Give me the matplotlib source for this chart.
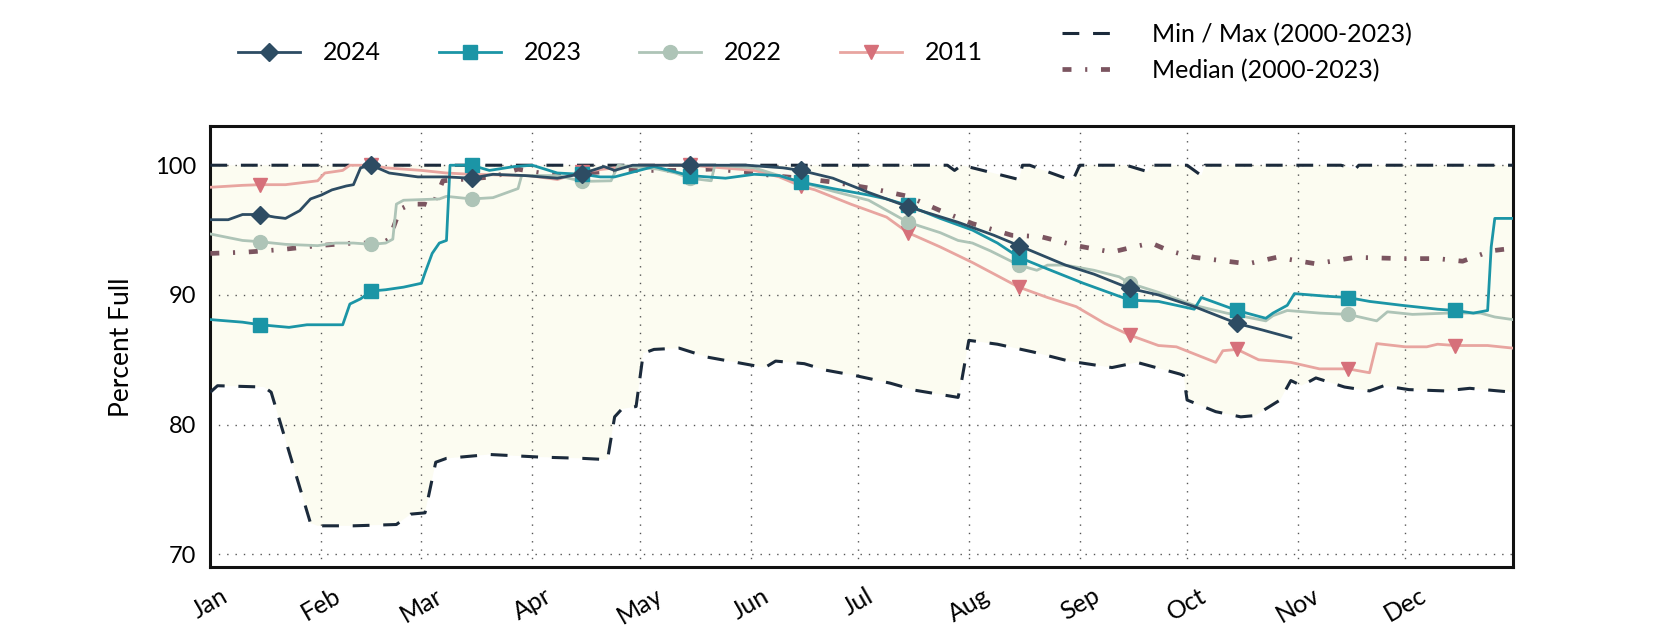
import numpy as np
import matplotlib
matplotlib.use("Agg")
import matplotlib.pyplot as plt
from matplotlib.lines import Line2D

plt.rcParams['font.family'] = ['Lato', 'DejaVu Sans']

# day of year (0 = Jan 1) for month starts and mid-month markers
month_days = [0, 31, 59, 90, 120, 151, 181, 212, 243, 273, 304, 334]
month_labels = ['Jan', 'Feb', 'Mar', 'Apr', 'May', 'Jun',
                'Jul', 'Aug', 'Sep', 'Oct', 'Nov', 'Dec']
mark_days = [14, 45, 73, 104, 134, 165, 195, 226, 257, 287, 318, 348]

days_2024 = [0, 5, 9, 14, 18, 21, 25, 28, 31, 34, 38, 40, 42, 45, 50, 58, 66, 73,
             79, 88, 97, 104, 110, 113, 118, 134, 150, 160, 165, 174, 184, 195,
             209, 219, 226, 239, 247, 257, 265, 275, 287, 294, 302]
pct_2024 = [95.8, 95.8, 96.2, 96.2, 96.0, 95.9, 96.5, 97.4, 97.7, 98.1, 98.4, 98.5,
            99.8, 100.0, 99.4, 99.1, 99.1, 99.0, 99.3, 99.2, 99.0, 99.35, 99.9, 99.6,
            100.0, 100.0, 100.0, 99.8, 99.6, 99.0, 97.9, 96.8, 95.6, 94.6, 93.8,
            92.3, 91.6, 90.5, 90.0, 89.1, 87.8, 87.3, 86.7]

days_2023 = [0, 9, 14, 22, 27, 37, 39, 42, 45, 49, 54, 59, 60, 62, 64, 66, 67, 73,
             78, 85, 90, 97, 104, 109, 113, 124, 134, 144, 152, 159, 165, 174, 184,
             189, 195, 204, 213, 220, 226, 234, 244, 257, 265, 275, 277, 285, 287,
             295, 297, 301, 303, 312, 318, 324, 333, 343, 348, 353, 357, 358, 359, 364]
pct_2023 = [88.1, 87.9, 87.7, 87.5, 87.7, 87.7, 89.3, 89.7, 90.3, 90.4, 90.6, 90.9,
            91.7, 93.2, 94.0, 94.2, 100.0, 100.0, 99.6, 99.9, 100.0, 99.4, 99.3, 99.1,
            99.1, 99.9, 99.2, 99.0, 99.3, 99.2, 98.7, 98.2, 97.7, 97.4, 96.9, 95.9,
            95.0, 94.0, 92.9, 92.0, 90.9, 89.6, 89.5, 88.9, 89.8, 89.0, 88.8, 88.2,
            88.6, 89.2, 90.1, 89.9, 89.8, 89.5, 89.2, 88.9, 88.8, 88.6, 88.8, 93.7,
            95.9, 95.9]

days_2022 = [0, 9, 14, 21, 30, 35, 40, 45, 49, 51, 52, 54, 64, 66, 73, 79, 86, 87,
             97, 104, 112, 114, 125, 130, 134, 140, 141, 152, 159, 165, 174, 184, 195,
             204, 209, 213, 218, 226, 231, 234, 239, 247, 254, 257, 265, 275, 284, 295,
             297, 301, 310, 318, 326, 329, 336, 346, 355, 359, 364]
pct_2022 = [94.7, 94.2, 94.1, 93.9, 93.8, 94.0, 94.0, 93.9, 94.0, 94.3, 97.0, 97.3,
            97.4, 97.6, 97.4, 97.5, 98.2, 99.2, 99.2, 98.75, 98.8, 100.0, 99.7, 99.4,
            99.0, 98.8, 100.0, 99.8, 99.2, 98.7, 98.0, 97.3, 95.6, 94.8, 94.2, 94.0,
            93.4, 92.3, 91.9, 92.3, 92.3, 91.9, 91.4, 90.9, 90.2, 89.2, 88.6, 88.0,
            88.4, 88.8, 88.6, 88.5, 88.0, 88.7, 88.5, 88.6, 88.6, 88.3, 88.1]

days_2011 = [0, 9, 14, 21, 30, 32, 37, 39, 45, 49, 59, 66, 73, 89, 97, 104, 110, 120,
             134, 152, 159, 165, 169, 179, 189, 195, 204, 213, 226, 234, 242, 250, 257,
             265, 270, 281, 283, 287, 293, 302, 310, 318, 324, 326, 334, 340, 343, 348,
             357, 364]
pct_2011 = [98.3, 98.45, 98.5, 98.5, 98.8, 99.4, 99.6, 100.0, 100.0, 99.8, 99.6, 99.4,
            99.3, 99.2, 98.9, 99.5, 99.7, 100.0, 100.0, 99.6, 99.1, 98.4, 98.1, 97.0,
            96.0, 94.8, 93.7, 92.5, 90.6, 89.8, 89.1, 87.8, 86.9, 86.1, 86.0, 84.8,
            85.7, 85.8, 85.0, 84.8, 84.3, 84.3, 84.0, 86.25, 86.0, 86.0, 86.2, 86.1,
            86.1, 85.9]

days_median = [0, 10, 20, 30, 40, 48, 50, 53, 56, 60, 62, 65, 70, 79, 86, 90, 97, 105,
               115, 130, 140, 150, 157, 165, 174, 185, 195, 204, 213, 224, 232, 242,
               252, 258, 263, 268, 275, 290, 298, 309, 320, 333, 343, 350, 358, 364]
pct_median = [93.2, 93.3, 93.5, 93.8, 94.0, 94.0, 94.3, 96.6, 97.0, 97.0, 96.8, 98.8,
              98.9, 99.1, 99.7, 99.5, 99.2, 99.4, 99.6, 99.6, 99.7, 99.5, 99.2, 99.0,
              98.7, 98.2, 97.6, 96.5, 95.5, 94.6, 94.5, 93.8, 93.3, 93.7, 94.0, 93.4,
              92.9, 92.4, 92.9, 92.4, 92.9, 92.8, 92.8, 92.6, 93.4, 93.6]

days_min = [0, 2, 15, 17, 28, 30, 40, 52, 56, 60, 63, 66, 78, 92, 104, 111, 113, 115,
            119, 121, 124, 131, 139, 149, 155, 158, 166, 172, 180, 190, 197, 209, 210,
            212, 220, 230, 240, 252, 259, 271, 272, 273, 281, 288, 292, 299, 302, 305,
            309, 317, 324, 328, 335, 345, 352, 364]
pct_min = [82.5, 83.0, 82.9, 82.5, 72.4, 72.2, 72.2, 72.3, 73.1, 73.2, 77.1, 77.4,
           77.7, 77.5, 77.4, 77.3, 80.6, 81.2, 81.4, 85.5, 85.8, 85.9, 85.2, 84.7,
           84.4, 84.9, 84.7, 84.2, 83.8, 83.2, 82.65, 82.1, 83.4, 86.5, 86.2, 85.6,
           84.9, 84.4, 84.8, 83.9, 83.8, 81.9, 81.0, 80.6, 80.7, 81.9, 83.4, 83.0,
           83.6, 82.9, 82.6, 83.0, 82.7, 82.6, 82.8, 82.5]

days_max = [0, 206, 208, 210, 213, 226, 227, 229, 241, 243, 256, 262, 263, 273, 277,
            278, 316, 320, 321, 364]
pct_max = [100.0, 100.0, 99.6, 100.0, 99.8, 98.9, 100.0, 100.0, 98.8, 100.0, 100.0,
           99.5, 100.0, 100.0, 99.2, 100.0, 100.0, 99.7, 100.0, 100.0]

C24 = '#2d4c63'
C23 = '#1b95a6'
C22 = '#aec4b7'
C11_LINE = '#e8a5a0'
C11_MARK = '#d6707a'
C_MED = '#7b5560'
C_MM = '#1b2a3b'
FILL = '#fcfcf1'

MM_STYLE = (0, (5.5, 4.5))
MED_STYLE = (0, (1.9, 2.9, 0.45, 2.9))
LW = 2.0


def marks(days):
    return [i for i, d in enumerate(days) if d in mark_days]


fig = plt.figure(figsize=(16.8, 6.3), dpi=100)
ax = fig.add_axes([0.1252, 0.0995, 0.7752, 0.7])

ax.fill(np.r_[days_min, days_max[::-1]], np.r_[pct_min, pct_max[::-1]],
        color=FILL, lw=0, zorder=1)
ax.plot(days_min, pct_min, color=C_MM, lw=2.2, linestyle=MM_STYLE, zorder=3)
ax.plot(days_max, pct_max, color=C_MM, lw=2.2, linestyle=MM_STYLE, zorder=3)
ax.plot(days_median, pct_median, color=C_MED, lw=3.4, linestyle=MED_STYLE, zorder=3)

ax.plot(days_2011, pct_2011, color=C11_LINE, lw=LW, marker='v', ms=10,
        mfc=C11_MARK, mec=C11_MARK, markevery=marks(days_2011), zorder=4)
ax.plot(days_2022, pct_2022, color=C22, lw=LW, marker='o', ms=10,
        markevery=marks(days_2022), zorder=5)
ax.plot(days_2023, pct_2023, color=C23, lw=LW, marker='s', ms=10,
        markevery=marks(days_2023), zorder=6)
ax.plot(days_2024, pct_2024, color=C24, lw=LW, marker='D', ms=9,
        markevery=marks(days_2024), zorder=7)

ax.set_xlim(0, 364)
ax.set_ylim(69, 103)
ax.set_xticks(month_days)
ax.set_xticklabels(month_labels, rotation=30, fontsize=18)
ax.set_yticks([70, 80, 90, 100])
ax.tick_params(axis='y', labelsize=17, length=0, pad=10)
ax.tick_params(axis='x', length=0, pad=12)
ax.set_ylabel('Percent Full', fontsize=19, labelpad=15)
ax.grid(True, linestyle=(0, (1, 5)), color='#555555', lw=1)
for s in ax.spines.values():
    s.set_linewidth(2.2)
    s.set_color('#111111')

h1 = [Line2D([], [], color=C24, lw=LW, marker='D', ms=9),
      Line2D([], [], color=C23, lw=LW, marker='s', ms=10),
      Line2D([], [], color=C22, lw=LW, marker='o', ms=10),
      Line2D([], [], color=C11_LINE, lw=LW, marker='v', ms=10, mfc=C11_MARK, mec=C11_MARK)]
fig.legend(h1, ['2024', '2023', '2022', '2011'], loc='center left',
           bbox_to_anchor=(0.1417, 0.916), ncol=4, frameon=False, fontsize=18,
           borderpad=0, borderaxespad=0, handlelength=2.48, handletextpad=0.92,
           columnspacing=2.3)

h2 = [Line2D([], [], color=C_MM, lw=2.2, linestyle=MM_STYLE),
      Line2D([], [], color=C_MED, lw=3.4, linestyle=MED_STYLE)]
fig.legend(h2, ['Min / Max (2000-2023)', 'Median (2000-2023)'], loc='center left',
           bbox_to_anchor=(0.632, 0.917), ncol=1, frameon=False, fontsize=18,
           borderpad=0, borderaxespad=0, handlelength=1.92, handletextpad=1.68,
           labelspacing=0.5)

fig.savefig('out.png', dpi=100)
